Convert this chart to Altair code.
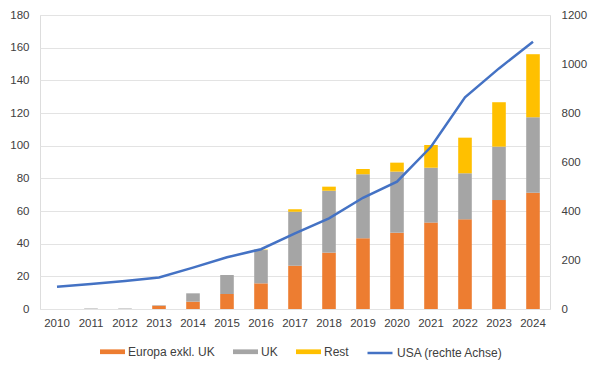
import altair as alt
import pandas as pd

years = [str(y) for y in range(2010, 2025)]
europa = [0.0, 0.0, 0.0, 2.0, 4.5, 9.2, 15.7, 26.5, 34.5, 43.3, 46.7, 52.9, 54.9, 66.7, 71.2]
uk = [0.0, 0.3, 0.3, 0.3, 5.1, 11.6, 20.4, 33.1, 37.9, 39.2, 37.4, 33.6, 28.2, 32.7, 46.2]
rest = [0.0, 0.0, 0.0, 0.0, 0.0, 0.0, 0.3, 1.4, 2.5, 3.2, 5.5, 13.9, 21.8, 27.2, 38.6]
usa = [91, 102, 114, 129, 169, 211, 244, 309, 370, 454, 520, 662, 864, 982, 1091]

series_names = ["Europa exkl. UK", "UK", "Rest"]
series_colors = ["#ED7D31", "#A5A5A5", "#FFC000"]
line_name = "USA (rechte Achse)"
line_color = "#4472C4"

rows = []
for i, y in enumerate(years):
    for k, (name, vals) in enumerate(zip(series_names, [europa, uk, rest])):
        rows.append({"Jahr": y, "Serie": name, "Wert": vals[i], "ord": k})
bars_df = pd.DataFrame(rows)
line_df = pd.DataFrame({"Jahr": years, "USA": usa, "Serie": [line_name] * len(years)})

FONT = "Liberation Sans"
TXT = "#404040"

x_enc = alt.X("Jahr:N", title=None, sort=years,
              scale=alt.Scale(paddingInner=0.6, paddingOuter=0.3),
              axis=alt.Axis(labelAngle=0, domain=False, ticks=False, labelPadding=8,
                            labelFontSize=11.5, labelColor=TXT, labelFont=FONT))

bars = alt.Chart(bars_df).mark_bar().encode(
    x=x_enc,
    y=alt.Y("Wert:Q", title=None, stack="zero",
            scale=alt.Scale(domain=[0, 180], nice=False),
            axis=alt.Axis(values=list(range(0, 181, 20)), domain=False, ticks=False,
                          labelPadding=11, labelFontSize=11.5, labelColor=TXT, labelFont=FONT,
                          grid=True, gridColor="#E3E3E3", gridWidth=1)),
    fill=alt.Fill("Serie:N", sort=series_names,
                  scale=alt.Scale(domain=series_names, range=series_colors),
                  legend=alt.Legend(title=None, orient="none", direction="horizontal",
                                    legendX=60, legendY=324,
                                    symbolType="M-1,-0.19H1V0.19H-1Z", symbolSize=625,
                                    symbolStrokeWidth=0, labelOffset=3, columnPadding=18,
                                    labelFontSize=12, labelColor=TXT, labelFont=FONT)),
    order=alt.Order("ord:Q", sort="ascending"),
)

line = alt.Chart(line_df).mark_line(strokeWidth=2.5).encode(
    x=alt.X("Jahr:N", sort=years),
    y=alt.Y("USA:Q", title=None,
            scale=alt.Scale(domain=[0, 1200], nice=False),
            axis=alt.Axis(orient="right", values=list(range(0, 1201, 200)), format="d",
                          domain=False, ticks=False, grid=False, labelPadding=11,
                          labelFontSize=11.5, labelColor=TXT, labelFont=FONT)),
    stroke=alt.Stroke("Serie:N", scale=alt.Scale(domain=[line_name], range=[line_color]),
                      legend=alt.Legend(title=None, orient="none", legendX=326, legendY=324,
                                        symbolType="stroke",
                                        symbolSize=625, symbolStrokeWidth=2.5, labelOffset=3,
                                        labelFontSize=12, labelColor=TXT, labelFont=FONT)),
)

chart = alt.layer(bars, line).resolve_scale(y="independent").properties(
    width=510, height=294,
    padding={"left": 32, "top": 7, "right": 41, "bottom": 54},
    autosize=alt.AutoSizeParams(type="none"),
).configure_view(stroke=None).configure(background="white")

chart.save("out.html", embed_options={"renderer": "svg", "actions": False})
